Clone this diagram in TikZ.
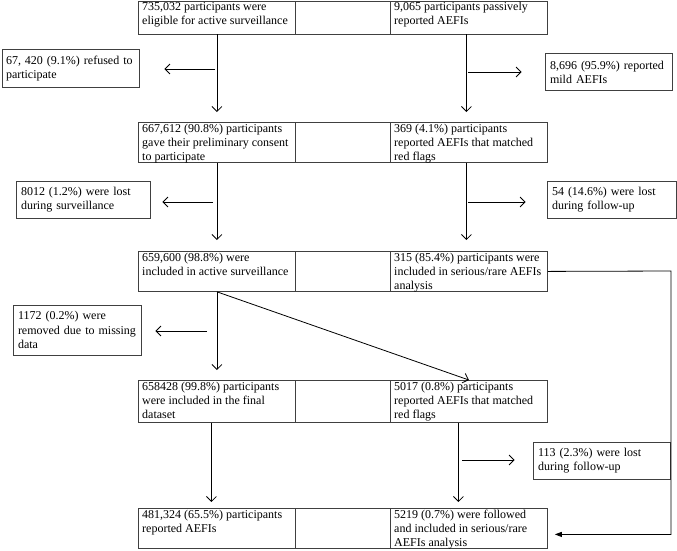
\documentclass[tikz,border=0pt]{standalone}
\usepackage{fontspec}
\setmainfont{Liberation Serif}
\usetikzlibrary{arrows.meta}
\begin{document}
\begin{tikzpicture}[x=1pt,y=-1pt,
  cellbox/.style={draw=black!75, line width=0.8pt, anchor=north west, inner sep=0pt},
  celltext/.style={anchor=north west, align=left, inner xsep=4pt, inner ysep=1.5pt, font=\fontsize{12}{14.2}\selectfont},
  sidebox/.style={draw=black!75, line width=0.8pt, align=left, inner xsep=5pt, inner ysep=0pt, font=\fontsize{12}{14.2}\selectfont},
  arr/.style={draw=black, line width=0.8pt, -{Straight Barb[length=5pt,width=10pt]}},
  fbarr/.style={draw=black, line width=0.8pt, -{Triangle[length=7pt,width=5pt]}}]
\useasboundingbox (0,0) rectangle (677,550);

% ---- Row 1
\node[cellbox, minimum width=157pt, minimum height=33pt] (r1l) at (138,0.5) {};
\node[cellbox, minimum width=95pt, minimum height=33pt] (r1m) at (295,0.5) {};
\node[cellbox, minimum width=157pt, minimum height=33pt] (r1r) at (390,0.5) {};
\node[celltext] (t1l) at (r1l.north west) {735,032 participants were\\eligible for active surveillance};
\node[celltext] (t1r) at (r1r.north west) {9,065 participants passively\\reported AEFIs};

% ---- Row 2
\node[cellbox, minimum width=157pt, minimum height=40pt] (r2l) at (138,122) {};
\node[cellbox, minimum width=95pt, minimum height=40pt] (r2m) at (295,122) {};
\node[cellbox, minimum width=157pt, minimum height=40pt] (r2r) at (390,122) {};
\node[celltext] (t2l) at (r2l.north west) {667,612 (90.8\%) participants\\gave their preliminary consent\\to participate};
\node[celltext] (t2r) at (r2r.north west) {369 (4.1\%) participants\\reported AEFIs that matched\\red flags};

% ---- Row 3
\node[cellbox, minimum width=157pt, minimum height=40pt] (r3l) at (138,251) {};
\node[cellbox, minimum width=95pt, minimum height=40pt] (r3m) at (295,251) {};
\node[cellbox, minimum width=157pt, minimum height=40pt] (r3r) at (390,251) {};
\node[celltext] (t3l) at (r3l.north west) {659,600 (98.8\%) were\\included in active surveillance};
\node[celltext] (t3r) at (r3r.north west) {315 (85.4\%) participants were\\included in serious/rare AEFIs\\analysis};

% ---- Row 4
\node[cellbox, minimum width=157pt, minimum height=42pt] (r4l) at (138,380) {};
\node[cellbox, minimum width=95pt, minimum height=42pt] (r4m) at (295,380) {};
\node[cellbox, minimum width=157pt, minimum height=42pt] (r4r) at (390,380) {};
\node[celltext] (t4l) at (r4l.north west) {658428 (99.8\%) participants\\were included in the final\\dataset};
\node[celltext] (t4r) at (r4r.north west) {5017 (0.8\%) participants\\reported AEFIs that matched\\red flags};

% ---- Row 5
\node[cellbox, minimum width=157pt, minimum height=40pt] (r5l) at (138,508) {};
\node[cellbox, minimum width=95pt, minimum height=40pt] (r5m) at (295,508) {};
\node[cellbox, minimum width=157pt, minimum height=40pt] (r5r) at (390,508) {};
\node[celltext] (t5l) at (r5l.north west) {481,324 (65.5\%) participants\\reported AEFIs};
\node[celltext] (t5r) at (r5r.north west) {5219 (0.7\%) were followed\\and included in serious/rare\\AEFIs analysis};

% ---- Side boxes
\node[sidebox, inner xsep=4pt, text width=129pt, minimum height=38pt] (sA) at (70.5,68.5) {67, 420 (9.1\%) refused to\\participate};
\node[sidebox, text width=117pt, minimum height=37pt] (sB) at (608.5,72) {8,696 (95.9\%) reported\\mild AEFIs};
\node[sidebox, text width=124pt, minimum height=37pt] (sC) at (83,199.5) {8012 (1.2\%) were lost\\during surveillance};
\node[sidebox, text width=119pt, minimum height=37pt] (sD) at (611.5,200) {54 (14.6\%) were lost\\during follow-up};
\node[sidebox, text width=118pt, minimum height=50pt] (sE) at (77,330) {1172 (0.2\%) were\\removed due to missing\\data};
\node[sidebox, text width=127pt, minimum height=37pt] (sF) at (601.5,460.5) {113 (2.3\%) were lost\\during follow-up};

% ---- Vertical arrows
\draw[arr, shorten >=10pt] (r1l.south) -- (r2l.north);
\draw[arr, shorten >=10pt] ([xshift=-2.5pt]r1r.south) -- ([xshift=-2.5pt]r2r.north);
\draw[arr, shorten >=11pt] (r2l.south) -- (r3l.north);
\draw[arr, shorten >=11pt] ([xshift=-2.5pt]r2r.south) -- ([xshift=-2.5pt]r3r.north);
\draw[arr, shorten >=10pt] (r3l.south) -- (r4l.north);
\draw[arr] (r3l.south) -- (r4r.north);
\draw[arr, shorten >=6pt] ([xshift=-5.5pt]r4l.south) -- ([xshift=-5.5pt]r5l.north);
\draw[arr, shorten >=6pt] ([xshift=-10.5pt]r4r.south) -- ([xshift=-10.5pt]r5r.north);

% ---- Side arrows
\coordinate (a1) at (215,69);
\coordinate (b1) at (468,72);
\coordinate (c1) at (213,202);
\coordinate (d1) at (468,202);
\coordinate (e1) at (207,331);
\coordinate (f1) at (462,460);
\draw[arr, shorten >=25pt] (a1) -- (a1 -| sA.east);
\draw[arr, shorten >=23pt] (b1) -- (b1 -| sB.west);
\draw[arr, shorten >=12pt] (c1) -- (c1 -| sC.east);
\draw[arr, shorten >=21pt] (d1) -- (d1 -| sD.west);
\draw[arr, shorten >=14pt] (e1) -- (e1 -| sE.east);
\draw[arr, shorten >=18pt] (f1) -- (f1 -| sF.west);

% ---- Feedback connector
\coordinate (fb) at (671,271);
\draw[fbarr, shorten >=7pt] (r3r.east) -- (fb) |- ([yshift=-6pt]r5r.east);
\end{tikzpicture}
\end{document}
